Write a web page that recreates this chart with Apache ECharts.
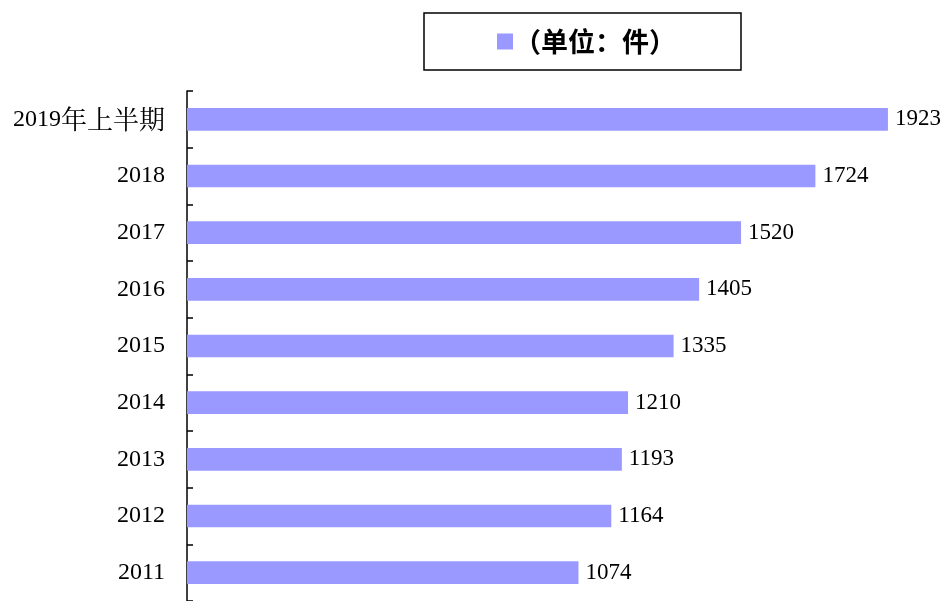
<!DOCTYPE html>
<html>
<head>
<meta charset="utf-8">
<script src="https://cdn.jsdelivr.net/npm/echarts@6/dist/echarts.min.js"></script>
<style>
  html, body { margin: 0; padding: 0; background: #fff; }
  #chart { width: 947px; height: 601px; }
</style>
</head>
<body>
<div id="chart"></div>
<script>
// Yearly counts, listed bottom-to-top on the category axis
const categories = ['2011', '2012', '2013', '2014', '2015', '2016', '2017', '2018', '2019年上半期'];
const counts = [1074, 1164, 1193, 1210, 1335, 1405, 1520, 1724, 1923];
const seriesName = '（单位：件）';

const serif = '"Liberation Serif", "Times New Roman", serif';
const cjkSerif = '"Noto Serif CJK SC", "Noto Sans CJK SC", serif';

// Split a category into its digit part and its Chinese suffix so each gets its own style
function formatCategory(value) {
  const m = value.match(/^(\d+)(.*)$/);
  if (!m || !m[2]) return '{n|' + value + '}';
  return '{n|' + m[1] + '}{c|' + m[2] + '}';
}

const chart = echarts.init(document.getElementById('chart'));
chart.setOption({
  animation: false,
  backgroundColor: '#ffffff',
  legend: {
    left: 424,
    top: 13,
    padding: [15, 65, 15, 73],
    borderColor: '#000',
    borderWidth: 1.5,
    itemWidth: 16,
    itemHeight: 16,
    itemGap: 0,
    textStyle: {
      fontFamily: '"Noto Sans CJK SC", sans-serif',
      fontWeight: 'bold',
      fontSize: 27,
      color: '#000',
      padding: [0, 0, 0, -4]
    },
    data: [{ name: seriesName, icon: 'rect' }]
  },
  grid: { left: 187, top: 91, width: 729, height: 517, containLabel: false },
  xAxis: {
    type: 'value',
    min: 0,
    max: 2000,
    show: false
  },
  yAxis: {
    type: 'category',
    data: categories,
    axisLine: { show: true, lineStyle: { color: '#000', width: 1.5 } },
    axisTick: { show: true, inside: true, length: 6, lineStyle: { color: '#000', width: 1.5 } },
    axisLabel: {
      margin: 22,
      color: '#000',
      formatter: formatCategory,
      rich: {
        n: { fontFamily: serif, fontSize: 24, color: '#000' },
        c: { fontFamily: cjkSerif, fontSize: 26, color: '#000' }
      }
    },
    splitLine: { show: false }
  },
  series: [{
    name: seriesName,
    type: 'bar',
    data: counts,
    barWidth: '40%',
    itemStyle: { color: '#9999ff' },
    label: {
      show: true,
      position: 'right',
      distance: 7,
      color: '#000',
      fontFamily: serif,
      fontSize: 23
    }
  }]
});
</script>
</body>
</html>
